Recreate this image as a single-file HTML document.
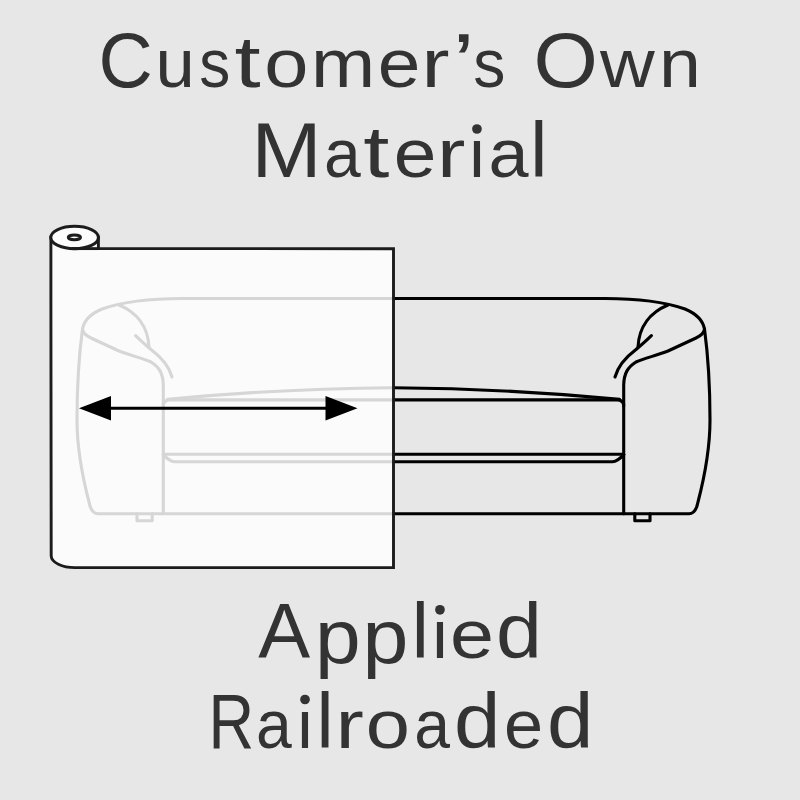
<!DOCTYPE html>
<html><head><meta charset="utf-8">
<style>
html,body{margin:0;padding:0;width:800px;height:800px;overflow:hidden;background:#e7e7e7;}
svg{display:block;position:absolute;left:0;top:0;}
text{font-family:"Liberation Sans", sans-serif;fill:#333333;font-size:100px;}
</style></head>
<body>
<svg width="800" height="800" viewBox="0 0 800 800">
<rect x="0" y="0" width="800" height="800" fill="#e7e7e7"/>
<g class="txt">
<text transform="matrix(0.7516 0 0 0.7811 98.58 86.84)">C</text>
<text transform="matrix(0.7062 0 0 0.6839 155.41 86.93)">u</text>
<text transform="matrix(0.6192 0 0 0.6882 199.28 86.93)">s</text>
<text transform="matrix(0.9398 0 0 0.7229 234.58 87.04)">t</text>
<text transform="matrix(0.7942 0 0 0.6863 264.16 86.93)">o</text>
<text transform="matrix(0.7707 0 0 0.6783 310.88 86.80)">m</text>
<text transform="matrix(0.7672 0 0 0.6863 377.74 86.93)">e</text>
<text transform="matrix(0.8400 0 0 0.6783 421.42 86.80)">r</text>
<text transform="matrix(1.0000 0 0 0.8067 452.39 89.50)">’</text>
<text transform="matrix(0.6422 0 0 0.6882 473.21 86.93)">s</text>
<text transform="matrix(0.8277 0 0 0.7811 533.58 86.84)">O</text>
<text transform="matrix(0.7575 0 0 0.6814 600.11 86.80)">w</text>
<text transform="matrix(0.7533 0 0 0.6783 659.00 86.80)">n</text>
<text transform="matrix(0.8416 0 0 0.7733 251.50 177.00)">M</text>
<text transform="matrix(0.6600 0 0 0.6863 324.10 177.13)">a</text>
<text transform="matrix(0.9398 0 0 0.7229 363.33 177.24)">t</text>
<text transform="matrix(0.7672 0 0 0.6863 393.74 177.13)">e</text>
<text transform="matrix(0.8520 0 0 0.6783 437.04 177.00)">r</text>
<text transform="matrix(0.7000 0 0 0.6776 467.24 177.00)">ı</text>
<circle cx="476.95" cy="129.00" r="4.85" fill="#333333"/>
<text transform="matrix(0.7203 0 0 0.6863 488.54 177.13)">a</text>
<text transform="matrix(0.7700 0 0 0.7839 530.23 177.00)">l</text>
<text transform="matrix(0.7782 0 0 0.7733 258.25 657.80)">A</text>
<text transform="matrix(0.8216 0 0 0.7663 315.00 662.50)">p</text>
<text transform="matrix(0.8250 0 0 0.7663 362.58 662.50)">p</text>
<text transform="matrix(0.7700 0 0 0.7839 411.63 657.80)">l</text>
<text transform="matrix(0.7000 0 0 0.6776 430.24 657.80)">ı</text>
<circle cx="439.95" cy="609.80" r="4.85" fill="#333333"/>
<text transform="matrix(0.7906 0 0 0.6863 450.04 657.93)">e</text>
<text transform="matrix(0.8250 0 0 0.7843 496.04 657.83)">d</text>
<text transform="matrix(0.6316 0 0 0.7733 208.57 747.50)">R</text>
<text transform="matrix(0.6424 0 0 0.6863 256.02 747.63)">a</text>
<text transform="matrix(0.7000 0 0 0.6776 295.29 747.50)">ı</text>
<circle cx="305.00" cy="699.50" r="4.85" fill="#333333"/>
<text transform="matrix(0.7700 0 0 0.7839 316.43 747.50)">l</text>
<text transform="matrix(0.8500 0 0 0.6783 335.61 747.50)">r</text>
<text transform="matrix(0.7942 0 0 0.6863 365.66 747.63)">o</text>
<text transform="matrix(0.6424 0 0 0.6863 414.27 747.63)">a</text>
<text transform="matrix(0.8339 0 0 0.7843 454.00 747.53)">d</text>
<text transform="matrix(0.7033 0 0 0.6863 504.01 747.63)">e</text>
<text transform="matrix(0.8339 0 0 0.7843 547.00 747.53)">d</text>

</g>

<defs>
<g id="half" fill="none" stroke="#000" stroke-width="3.1" stroke-linecap="round" stroke-linejoin="round">
  <!-- back top line -->
  <path d="M393.5,298.5 L605,298.5 C640,298.5 665,302 685,309 C697,314 703,321 704.5,329"/>
  <!-- arm front -->
  <path d="M704.5,329 C704,333 700.5,336 696,338 L668,351 C655,356 645,358 636,362 C628,367 624,373 623.7,385 L623.7,513.75"/>
  <!-- arm outer -->
  <path d="M704.5,329 C708,355 710,385 710,420 C710,448 705,475 698,502 Q695.8,513.75 689,513.75 L393.5,513.75"/>
  <!-- foot -->
  <path d="M634.8,513.75 L634.8,520.8 L650,520.8 L650,513.75"/>
  <!-- arm roll inner -->
  <path d="M668,305 C651,312 639,326 638,347"/>
  <path d="M651.4,335.6 C645,342 640,346 636,349.5 C626,357 618,366 615,377"/>
  <!-- cushion -->
  <path d="M393.5,387.7 Q506.5,388.5 619.5,399.3"/>
  <path d="M393.5,399.9 L617,399.9 Q623.7,399.9 623.7,406"/>
  <path d="M393.5,454.3 L623.7,454.3"/>
  <path d="M393.5,461.8 L612.5,461.8 Q617.5,461.5 623.7,454.6"/>
</g>
</defs>
<use href="#half"/>
<use href="#half" transform="translate(787,0) scale(-1,1)"/>

<!-- sheet -->
<path d="M50.9,237.5 L50.9,300 L51.2,556 C51.5,562.5 62,567.6 75,567.6 L393.5,567.6 L393.5,248.7 L98.4,248.6 L98.4,237.5 Z" fill="#ffffff" fill-opacity="0.84" stroke="#1c1c1c" stroke-width="2.9" stroke-linejoin="miter"/>
<ellipse cx="74.6" cy="237.5" rx="23.8" ry="11.2" fill="#fcfcfc" stroke="#1c1c1c" stroke-width="3"/>
<ellipse cx="74.4" cy="237.3" rx="6.1" ry="2.4" fill="#fcfcfc" stroke="#1c1c1c" stroke-width="3"/>
<path d="M72,248.6 L98.4,248.6" stroke="#1c1c1c" stroke-width="2.9" fill="none"/>

<!-- arrow -->
<line x1="108" y1="408.3" x2="328" y2="408.3" stroke="#000" stroke-width="3"/>
<path d="M79,408.3 L111,396 L111,420.5 Z" fill="#000"/>
<path d="M357.5,408.3 L325.5,396 L325.5,420.5 Z" fill="#000"/>
</svg>
</body></html>
